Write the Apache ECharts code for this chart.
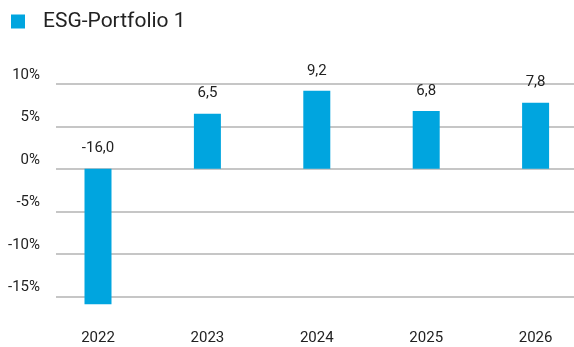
<!DOCTYPE html>
<html>
<head>
<meta charset="utf-8">
<script src="https://cdn.jsdelivr.net/npm/echarts@6/dist/echarts.min.js"></script>
<style>
  html, body { margin: 0; padding: 0; background: #fff; }
  #chart { width: 574px; height: 347px; }
</style>
</head>
<body>
<div id="chart"></div>
<script>
// Annual returns of the portfolio, in percent
const years = ['2022', '2023', '2024', '2025', '2026'];
const returns = [-16.0, 6.5, 9.2, 6.8, 7.8];
const seriesName = 'ESG-Portfolio 1';
const yTicks = { min: -15, max: 10, step: 5 };

const textColor = '#222222';
const barColor = '#00A5DF';
const fontFamily = 'Roboto, "Noto Sans", sans-serif';

const chart = echarts.init(document.getElementById('chart'), null, { renderer: 'canvas' });

chart.setOption({
  animation: false,
  backgroundColor: '#ffffff',
  textStyle: { fontFamily: fontFamily },
  legend: {
    left: 6,
    top: 6,
    itemWidth: 14,
    itemHeight: 14,
    icon: 'rect',
    data: [seriesName],
    textStyle: { fontSize: 21, color: textColor, fontFamily: fontFamily, padding: [0, 0, 0, 13] }
  },
  grid: [
    // grid for the horizontal rules and the percentage labels
    { left: 56, right: 0, top: 84, height: 212.3, containLabel: false, outerBoundsMode: 'none' },
    // grid that carries the bars and the year labels (runs past the right edge)
    { left: 43.3, width: 547, top: 84, height: 232.9, containLabel: false, outerBoundsMode: 'none' }
  ],
  xAxis: [
    { type: 'category', gridIndex: 0, data: years, show: false },
    {
      type: 'category', gridIndex: 1, data: years,
      axisLine: { show: false }, axisTick: { show: false },
      axisLabel: { fontSize: 15, color: textColor, margin: 14, fontFamily: fontFamily }
    }
  ],
  yAxis: [
    {
      type: 'value', gridIndex: 0,
      min: yTicks.min, max: yTicks.max, interval: yTicks.step,
      axisLine: { show: false }, axisTick: { show: false },
      splitLine: { lineStyle: { color: '#c6c6c6', width: 2 } },
      axisLabel: {
        fontSize: 15, color: textColor, margin: 16, fontFamily: fontFamily,
        verticalAlign: 'bottom', lineHeight: 18,
        formatter: v => v + '%'
      }
    },
    {
      type: 'value', gridIndex: 1,
      min: -17.5, max: 10,
      show: false, splitLine: { show: false }
    }
  ],
  series: [
    {
      name: seriesName,
      type: 'bar',
      xAxisIndex: 1,
      yAxisIndex: 1,
      barWidth: 27,
      itemStyle: { color: barColor },
      data: returns.map(v => ({
        value: v,
        label: { position: v < 0 ? 'insideTop' : 'top', offset: v < 0 ? [0, -40] : [0, 0] }
      })),
      label: {
        show: true,
        fontSize: 15,
        color: textColor,
        lineHeight: 18,
        distance: 11,
        fontFamily: fontFamily,
        formatter: p => p.value.toFixed(1).replace('.', ',')
      }
    }
  ]
});
</script>
</body>
</html>
